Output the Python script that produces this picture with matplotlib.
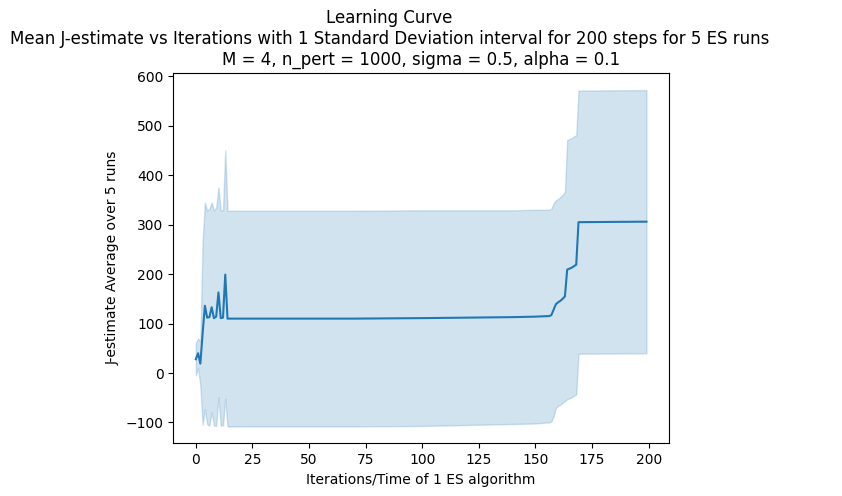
import matplotlib.pyplot as plt
import numpy as np

# iteracoes onde a curva muda (entre elas a media fica praticamente constante)
iteracoes = [0, 1, 2, 3, 4, 5, 6, 7, 8, 9, 10, 11, 12, 13, 14,
             40, 70, 100, 120, 140, 150, 155, 156, 157,
             158, 159, 160, 161, 162, 163, 164, 165, 166, 167, 168, 169, 199]

media_j = [28, 40, 19, 80, 136, 112, 113, 133, 111, 114, 163, 111, 112, 199, 110,
           110, 110, 111, 112, 113, 114, 115, 115, 117,
           128, 139, 143, 146, 150, 155, 209, 211, 213, 216, 219, 305, 306]

desvio_j = [33, 30, 45, 185, 209, 216, 219, 212, 217, 221, 212, 217, 218, 251, 218,
            218, 218, 218, 217, 216, 216, 215, 215, 215,
            215, 210, 209, 210, 210, 212, 262, 262, 262, 262, 262, 266, 266]

media = np.array(media_j)
desvio = np.array(desvio_j)

fig = plt.figure(figsize=(8.42, 4.96), dpi=100)
ax = fig.add_axes([0.2058, 0.1063, 0.5887, 0.7460])

# curva media e intervalo de 1 desvio padrao
ax.fill_between(iteracoes, media - desvio, media + desvio, color='#1f77b4', alpha=0.2)
ax.plot(iteracoes, media, color='#1f77b4', linewidth=1.5)

fig.suptitle('Learning Curve\nMean J-estimate vs Iterations with 1 Standard Deviation '
             'interval for 200 steps for 5 ES runs', x=0.4626, y=0.982, fontsize=12)
ax.set_title('M = 4, n_pert = 1000, sigma = 0.5, alpha = 0.1')
ax.set_xlabel('Iterations/Time of 1 ES algorithm')
ax.set_ylabel('J-estimate Average over 5 runs')

plt.savefig('out.png')
